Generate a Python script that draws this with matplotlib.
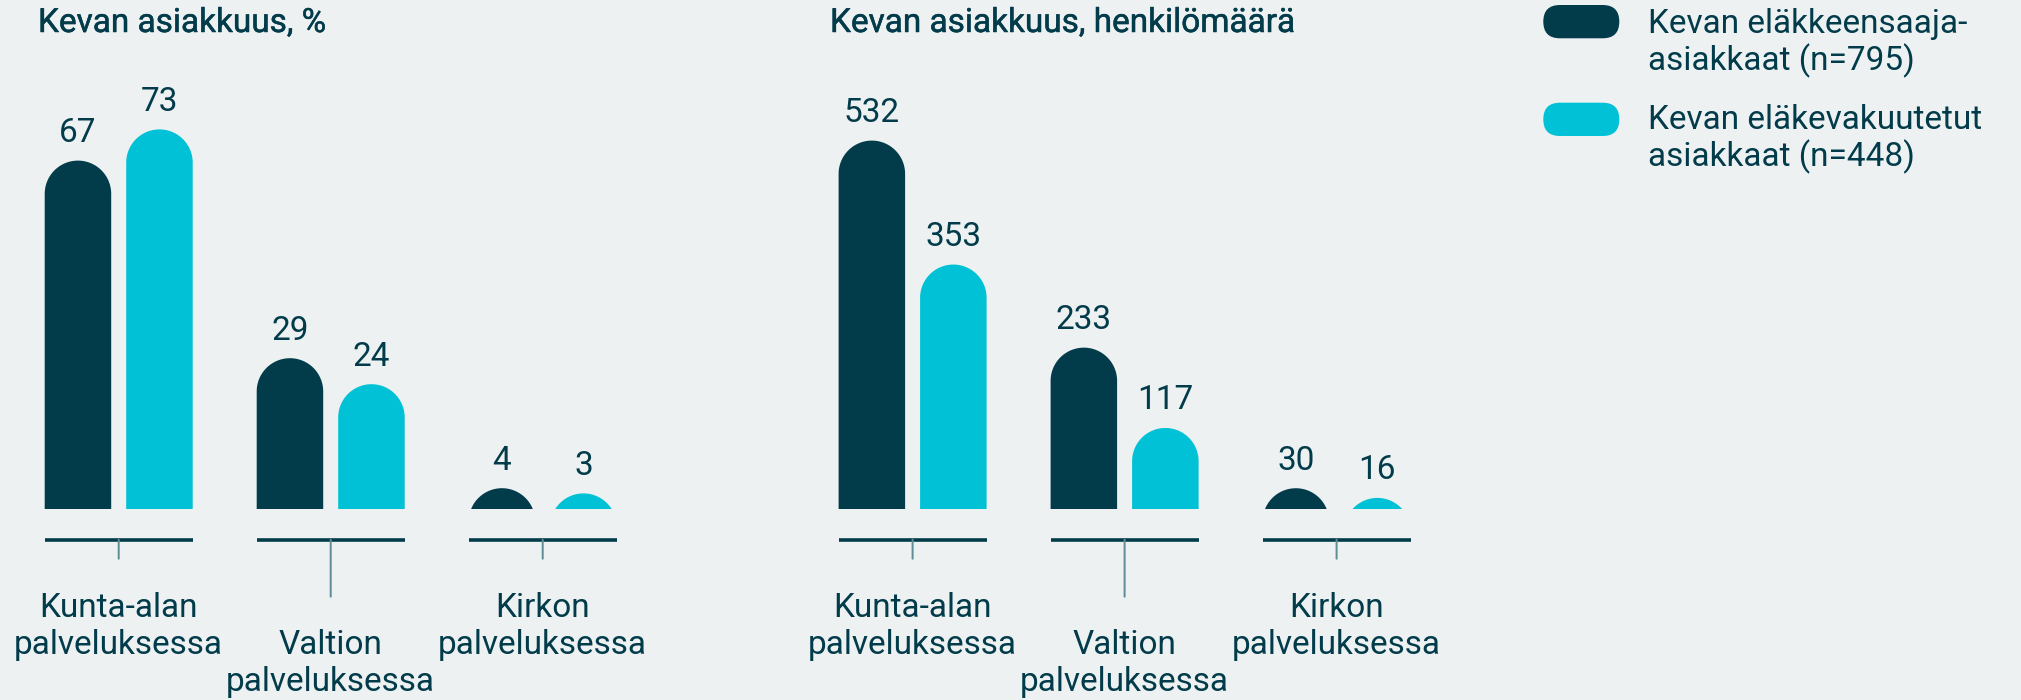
import numpy as np
import matplotlib
matplotlib.use("Agg")
import matplotlib.pyplot as plt
from matplotlib.patches import Polygon, FancyBboxPatch
from matplotlib.transforms import ScaledTranslation, IdentityTransform
import matplotlib.patheffects as pe

# ---------------- data ----------------
categories = ["Kunta-alan\npalveluksessa", "Valtion\npalveluksessa", "Kirkon\npalveluksessa"]
series_names = ["Kevan eläkkeensaaja-\nasiakkaat (n=795)", "Kevan eläkevakuutetut\nasiakkaat (n=448)"]
pct_pensioners = [67, 29, 4]
pct_insured = [73, 24, 3]
cnt_pensioners = [532, 233, 30]
cnt_insured = [353, 117, 16]
titles = ["Kevan asiakkuus, %", "Kevan asiakkuus, henkilömäärä"]

# ---------------- style ----------------
BG = "#edf1f2"
DARK = "#023b4a"
CYAN = "#00c1d5"
TICK = "#5f8e98"
FONT = ["Roboto", "DejaVu Sans"]
plt.rcParams["font.family"] = FONT

W, H, DPI = 2021, 700, 100
fig = plt.figure(figsize=(W / DPI, H / DPI), dpi=DPI, facecolor=BG)

GROUP_PX = 212.0      # px between group centres
BAR_W = 66.5 / GROUP_PX
BAR_OFF = 40.75 / GROUP_PX
BASE_PX = 191.0       # baseline height from bottom of figure
AX_H_PX = H - BASE_PX


def px(v):
    return v * 72.0 / DPI  # px -> points


def rounded_bar(ax, xc, h, color, x_ppu, y_ppu):
    rx = BAR_W / 2
    ry = rx * x_ppu / y_ppu
    cy = h - ry
    t = np.linspace(0, np.pi, 80)
    arc = np.column_stack([xc + rx * np.cos(t), cy + ry * np.sin(t)])
    bottom = min(0.0, cy) - ry
    verts = np.vstack([[xc + rx, bottom], arc, [xc - rx, bottom]])
    ax.add_patch(Polygon(verts, closed=True, facecolor=color, edgecolor="none", clip_on=True))


def panel(left_px, y_ppu, s1, s2, title, title_x_px):
    ylim_top = AX_H_PX / y_ppu
    ax = fig.add_axes([left_px / W, BASE_PX / H, 3 * GROUP_PX / W, AX_H_PX / H])
    ax.set_xlim(-0.5, 2.5)
    ax.set_ylim(0, ylim_top)
    ax.axis("off")
    x_ppu = GROUP_PX
    x = np.arange(len(categories))
    for vals, off, col in ((s1, -BAR_OFF, DARK), (s2, BAR_OFF, CYAN)):
        for xi, v in zip(x, vals):
            rounded_bar(ax, xi + off, v, col, x_ppu, y_ppu)
            ax.annotate(str(v), (xi + off, v), xytext=(0, px(18.5)), textcoords="offset points",
                        ha="center", va="baseline", fontsize=24, color=DARK)
    # group baseline lines and ticks
    line_tr = ax.get_xaxis_transform() + ScaledTranslation(0, -30.7 / DPI, fig.dpi_scale_trans)
    for i, xi in enumerate(x):
        ax.plot([xi - BAR_OFF - BAR_W / 2, xi + BAR_OFF + BAR_W / 2], [0, 0], color=DARK,
                lw=px(3.6), solid_capstyle="butt", transform=line_tr, clip_on=False)
        tick_len = 57 if i == 1 else 19
        ax.annotate("", xy=(xi, 0), xycoords=line_tr, xytext=(0, -px(tick_len)),
                    textcoords="offset points",
                    arrowprops=dict(arrowstyle="-", color=TICK, lw=px(2.0),
                                    shrinkA=0, shrinkB=0))
        # category labels
        lines = categories[i].split("\n")
        first_base = 617.4 + (37.0 if i == 1 else 0.0)
        for k, ln in enumerate(lines):
            yb = first_base + k * 36.8
            ax.annotate(ln, (xi, 0), xycoords=ax.get_xaxis_transform(),
                        xytext=(0, -px(yb - (H - BASE_PX))), textcoords="offset points",
                        ha="center", va="baseline", fontsize=24, color=DARK)
    fig.text(title_x_px / W, 1 - 32.0 / H, title, ha="left", va="baseline",
             fontsize=24, fontweight="normal", color=DARK,
             path_effects=[pe.withStroke(linewidth=0.35, foreground=DARK)])
    return ax


panel(118.7 - 106, 5.2, pct_pensioners, pct_insured, titles[0], 38)
panel(912.6 - 106, 0.6925, cnt_pensioners, cnt_insured, titles[1], 830)

# ---------------- legend ----------------
leg_colors = [DARK, CYAN]
pill_tops = [5.0, 102.7]
text_bases = [33.3, 129.3]
for name, col, ptop, tb in zip(series_names, leg_colors, pill_tops, text_bases):
    pw, ph = 76.0, 33.3
    pill = FancyBboxPatch((1543.3, H - (ptop + ph)), pw, ph,
                          boxstyle="round,pad=0,rounding_size=%f" % (ph / 2),
                          transform=IdentityTransform(), facecolor=col, edgecolor="none")
    fig.add_artist(pill)
    for k, ln in enumerate(name.split("\n")):
        fig.text(1648 / W, 1 - (tb + k * 37.0) / H, ln, ha="left", va="baseline",
                 fontsize=24, color=DARK)

fig.savefig("out.png", dpi=DPI, facecolor=BG)
